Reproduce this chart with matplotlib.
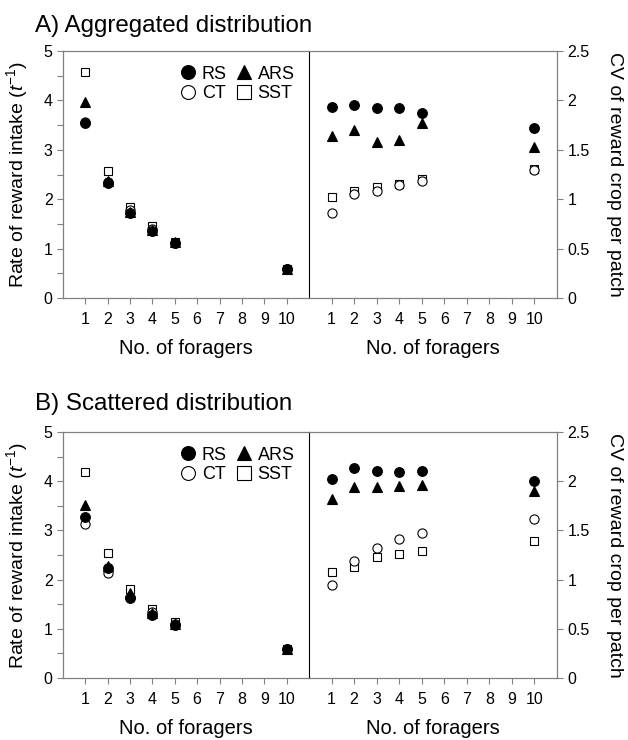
import matplotlib
matplotlib.use('Agg')
import matplotlib.pyplot as plt
from matplotlib.lines import Line2D

plt.rcParams.update({
    'font.family': 'Liberation Sans',
    'mathtext.fontset': 'custom',
    'mathtext.rm': 'Liberation Sans',
    'mathtext.it': 'Liberation Sans:italic',
})

# foragers (category 10 sits at position 10, 6-9 empty)
foragers = [1, 2, 3, 4, 5, 10]

# A) aggregated - rate of reward intake
agg_rate_rs = [3.54, 2.33, 1.73, 1.35, 1.12, 0.59]
agg_rate_ct = [3.56, 2.35, 1.78, 1.40, 1.12, 0.59]
agg_rate_ars = [3.97, 2.36, 1.75, 1.37, 1.13, 0.59]
agg_rate_sst = [4.58, 2.58, 1.84, 1.45, 1.14, 0.59]

# A) aggregated - CV of reward crop per patch
agg_cv_rs = [1.93, 1.95, 1.92, 1.92, 1.87, 1.72]
agg_cv_ct = [0.86, 1.05, 1.08, 1.14, 1.18, 1.30]
agg_cv_ars = [1.64, 1.70, 1.58, 1.60, 1.77, 1.53]
agg_cv_sst = [1.02, 1.08, 1.12, 1.15, 1.20, 1.31]

# B) scattered - rate of reward intake
sca_rate_rs = [3.28, 2.23, 1.63, 1.28, 1.07, 0.58]
sca_rate_ct = [3.13, 2.14, 1.65, 1.35, 1.09, 0.58]
sca_rate_ars = [3.52, 2.28, 1.72, 1.33, 1.10, 0.58]
sca_rate_sst = [4.19, 2.55, 1.80, 1.40, 1.14, 0.58]

# B) scattered - CV of reward crop per patch
sca_cv_rs = [2.02, 2.13, 2.10, 2.09, 2.10, 2.00]
sca_cv_ct = [0.95, 1.19, 1.32, 1.41, 1.47, 1.62]
sca_cv_ars = [1.82, 1.94, 1.94, 1.95, 1.96, 1.90]
sca_cv_sst = [1.08, 1.13, 1.23, 1.26, 1.29, 1.39]

xtick_labels = ['1', '2', '3', '4', '5', '6', '7', '8', '9', '10']

GRAY = '#808080'
W, H = 628, 740

STYLES = {
    'SST': dict(marker='s', ms=6.2, mfc='white', mec='black', mew=0.8),
    'CT': dict(marker='o', ms=6.6, mfc='white', mec='black', mew=0.8),
    'RS': dict(marker='o', ms=7.0, mfc='black', mec='black', mew=0.8),
    'ARS': dict(marker='^', ms=7.0, mfc='black', mec='black', mew=0.8),
}


def px_axes(fig, x0, y0, x1, y1):
    return fig.add_axes([x0 / W, 1 - y1 / H, (x1 - x0) / W, (y1 - y0) / H])


def plot_series(ax, series):
    for name in ['SST', 'CT', 'RS', 'ARS']:
        ax.plot(foragers, series[name], linestyle='none', **STYLES[name])


def style_common(ax):
    ax.set_xlim(0, 11)
    ax.set_xticks(range(1, 11))
    ax.set_xticklabels(xtick_labels)
    ax.tick_params(axis='both', which='both', direction='out', length=4,
                   color=GRAY, labelsize=11.5, width=0.8)
    ax.tick_params(axis='x', pad=6)
    ax.set_xlabel('No. of foragers', fontsize=14.5, labelpad=9)
    for s in ax.spines.values():
        s.set_color(GRAY)
        s.set_linewidth(0.9)


def make_row(fig, y0, y1, title, title_base, rate, cv):
    axl = px_axes(fig, 63, y0, 309, y1)
    axr = px_axes(fig, 309, y0, 557, y1)

    plot_series(axl, rate)
    style_common(axl)
    axl.set_ylim(0, 5)
    axl.set_yticks([0, 1, 2, 3, 4, 5])
    axl.set_yticks([0.5, 1.5, 2.5, 3.5, 4.5], minor=True)
    axl.spines['right'].set_visible(False)

    plot_series(axr, cv)
    style_common(axr)
    axr.set_ylim(0, 2.5)
    axr.set_yticks([0, 0.5, 1, 1.5, 2, 2.5])
    axr.set_yticklabels(['0', '0.5', '1', '1.5', '2', '2.5'])
    axr.yaxis.tick_right()
    axr.spines['left'].set_color('black')
    axr.spines['left'].set_linewidth(0.8)

    handles = [Line2D([], [], linestyle='none', **dict(STYLES[n], ms=10 if n != 'SST' else 9.5))
               for n in ['RS', 'CT', 'ARS', 'SST']]
    axl.legend(handles, ['RS', 'CT', 'ARS', 'SST'], ncol=2, frameon=False,
               loc='upper right', bbox_to_anchor=(0.985, 0.985), fontsize=13,
               handlelength=0.9, handletextpad=0.3, columnspacing=0.5,
               labelspacing=0.15, borderaxespad=0.2)

    yc = 1 - (y0 + y1) / 2 / H
    fig.text(17 / W, yc, r'Rate of reward intake ($\mathit{t}^{\mathrm{-1}}$)',
             rotation=90, ha='center', va='center', fontsize=14)
    fig.text(615 / W, yc, 'CV of reward crop per patch',
             rotation=270, ha='center', va='center', fontsize=14)
    fig.text(35 / W, 1 - title_base / H, title, ha='left', va='baseline', fontsize=17.4)


fig = plt.figure(figsize=(W / 100, H / 100), dpi=100)

make_row(fig, 51, 298, 'A) Aggregated distribution', 32,
         {'RS': agg_rate_rs, 'CT': agg_rate_ct, 'ARS': agg_rate_ars, 'SST': agg_rate_sst},
         {'RS': agg_cv_rs, 'CT': agg_cv_ct, 'ARS': agg_cv_ars, 'SST': agg_cv_sst})
make_row(fig, 432, 678, 'B) Scattered distribution', 410,
         {'RS': sca_rate_rs, 'CT': sca_rate_ct, 'ARS': sca_rate_ars, 'SST': sca_rate_sst},
         {'RS': sca_cv_rs, 'CT': sca_cv_ct, 'ARS': sca_cv_ars, 'SST': sca_cv_sst})

fig.savefig('out.png', dpi=100, facecolor='white')
